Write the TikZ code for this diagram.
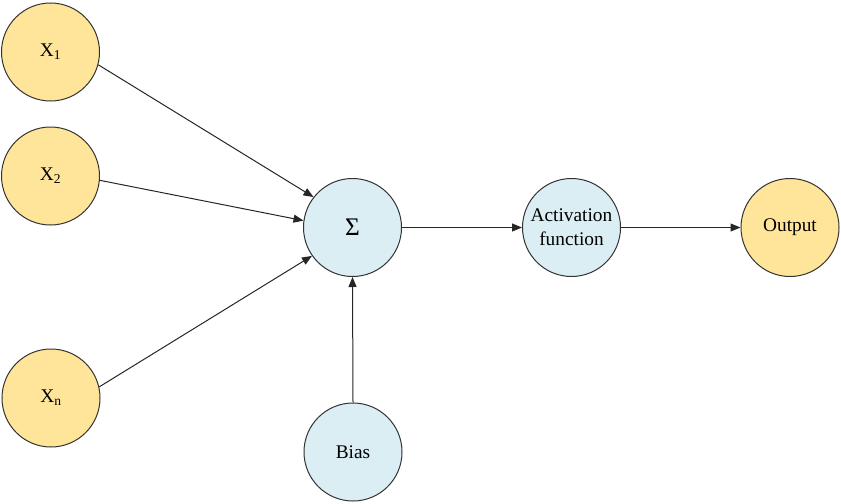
\documentclass[tikz,border=0pt]{standalone}
\usepackage{fontspec}
\setmainfont{Liberation Serif}
\usetikzlibrary{arrows.meta}
\definecolor{yel}{HTML}{FFE599}
\definecolor{blu}{HTML}{DAEEF3}
\definecolor{edge}{HTML}{333333}
\begin{document}
\begin{tikzpicture}[x=0.75pt,y=-0.75pt,
  neuron/.style={circle,draw=edge,line width=0.75pt,minimum size=73.5pt,inner sep=0pt,align=center,font=\rmfamily\fontsize{14.5}{18}\selectfont},
  inp/.style={neuron,fill=yel},
  proc/.style={neuron,fill=blu},
  conn/.style={draw=black!85,line width=0.75pt,-{Triangle[length=7.5pt,width=6pt]}}]
\useasboundingbox (0,0) rectangle (841,503);
\node[inp] (x1) at (50.5,52) {X\textsubscript{1}};
\node[inp] (x2) at (50.5,176) {X\textsubscript{2}};
\node[inp] (xn) at (51,398) {X\textsubscript{n}};
\node[proc] (sum) at (352.5,227.5) {\fontsize{19}{20}\selectfont Σ};
\node[proc] (act) at (571.5,227.5) {Activation\\function};
\node[inp] (out) at (790,227.5) {Output};
\node[proc] (bias) at (353,452) {Bias};
\draw[conn] (x1.-15) -- (sum.142);
\draw[conn] (x2.-5) -- (sum.172);
\draw[conn] (xn.13) -- (sum.215);
\draw[conn] (bias.north) -- (sum.south);
\draw[conn] (sum.east) -- (act.west);
\draw[conn] (act.east) -- (out.west);
\end{tikzpicture}
\end{document}
